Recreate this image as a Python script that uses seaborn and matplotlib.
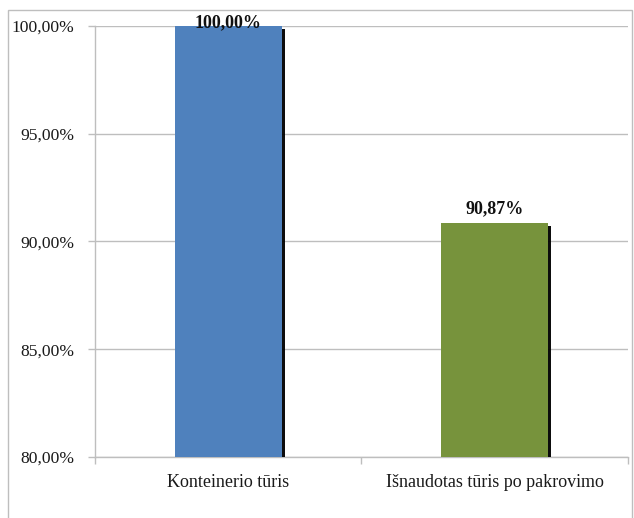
import matplotlib
matplotlib.use("Agg")
import matplotlib.pyplot as plt
import matplotlib.patheffects as pe
from matplotlib.patches import Rectangle
from matplotlib.ticker import FixedLocator
import seaborn as sns
import pandas as pd

categories = ["Konteinerio tūris", "Išnaudotas tūris po pakrovimo"]
values = [100.00, 90.87]
bar_colors = ["#4F81BD", "#77933C"]
y_ticks = [80, 85, 90, 95, 100]

sns.set_theme(style="white")
plt.rcParams["font.family"] = ["Liberation Serif", "DejaVu Serif"]

fig = plt.figure(figsize=(6.34, 5.18), dpi=100)
ax = fig.add_axes([0.1498, 0.1178, 0.8407, 0.8320])

df = pd.DataFrame({"cat": categories, "val": values})
sns.barplot(data=df, x="cat", y="val", hue="cat", palette=bar_colors,
            saturation=1, width=0.4, legend=False, ax=ax, zorder=3)

for bar in ax.patches:
    bar.set_linewidth(0)
    bar.set_path_effects([pe.SimplePatchShadow(offset=(2.5, -2.0), shadow_rgbFace="black",
                                               alpha=0.95), pe.Normal()])

ax.set_ylim(80, 100)
ax.set_xlim(-0.5, 1.5)
ax.set_yticks(y_ticks)
ax.set_yticklabels([f"{t:.2f}".replace(".", ",") + "%" for t in y_ticks])
ax.yaxis.grid(True, color="#BEBEBE", linewidth=1.0, zorder=0)
ax.set_axisbelow(True)

for side in ["top", "right"]:
    ax.spines[side].set_visible(False)
ax.spines["left"].set_color("#BEBEBE")
ax.spines["bottom"].set_color("#BEBEBE")
ax.spines["left"].set_linewidth(1.0)
ax.spines["bottom"].set_linewidth(1.0)

fs = 13.0
ax.tick_params(axis="y", which="major", length=5, color="#BEBEBE", width=1.0,
               labelsize=12.6, pad=10, left=True, labelcolor="#1a1a1a")
ax.tick_params(axis="x", which="major", length=0, labelsize=fs, pad=12, labelcolor="#1a1a1a")
ax.xaxis.set_minor_locator(FixedLocator([-0.5, 0.5, 1.5]))
ax.tick_params(axis="x", which="minor", length=5, color="#BEBEBE", width=1.0, bottom=True)
ax.set_xlabel("")
ax.set_ylabel("")

for i, v in enumerate(values):
    ty = min(v + 0.65, 100.15)
    ax.text(i, ty, f"{v:.2f}".replace(".", ",") + "%", ha="center", va="center",
            fontsize=fs, fontweight="bold", color="#111111", clip_on=False, zorder=5)

fig.patches.append(Rectangle((8 / 634, -0.01), (632 - 8) / 634, 1 - 10 / 518 + 0.01,
                             transform=fig.transFigure, fill=False,
                             edgecolor="#BEBEBE", linewidth=1.0))

fig.savefig("out.png", dpi=100, facecolor="white")
